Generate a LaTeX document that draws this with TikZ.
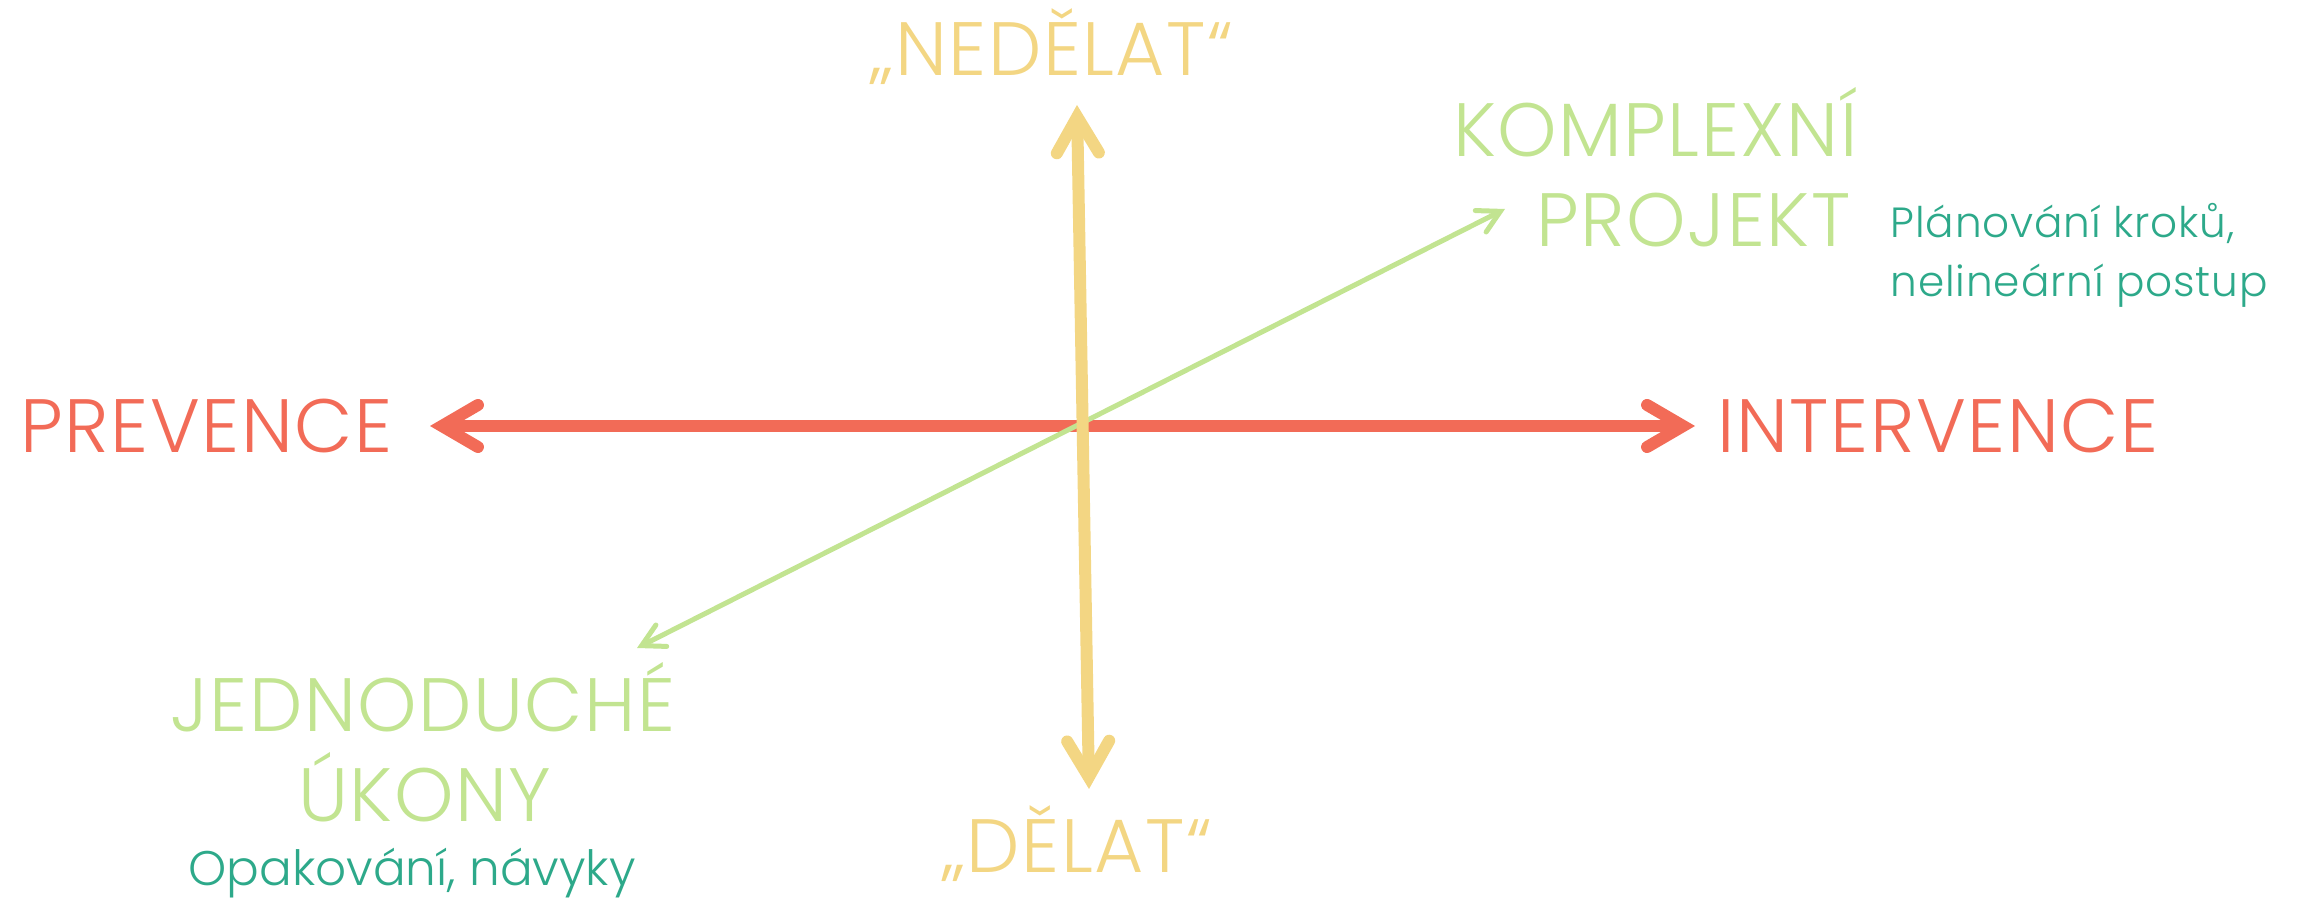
\documentclass[tikz,border=0pt]{standalone}
\usepackage{fontspec}
\setmainfont{Poppins}[UprightFont=* Light]
\usetikzlibrary{arrows.meta}

\definecolor{axisred}{HTML}{F26B57}
\definecolor{axisyellow}{HTML}{F3D683}
\definecolor{axisgreen}{HTML}{C2E491}
\definecolor{noteteal}{HTML}{2DA98A}

\tikzset{
  biglabel/.style={font=\fontsize{21.5}{25}\selectfont\addfontfeatures{LetterSpace=2}, inner sep=0pt},
  notelabel/.style={font=\fontsize{12}{14}\selectfont\addfontfeatures{LetterSpace=2}, text=noteteal, inner sep=0pt},
  bighead/.tip={Straight Barb[length=3.6mm, width=4.2mm, line cap=round, line join=miter]},
  smallhead/.tip={Straight Barb[length=2.2mm, width=2.4mm, line cap=round, line join=miter]},
  thickaxis/.style={line width=1.2mm, arrows={bighead-bighead}},
  thinaxis/.style={line width=0.5mm, arrows={smallhead-smallhead}}
}

\begin{document}
\begin{tikzpicture}[x=0.01cm, y=-0.01cm]
  \useasboundingbox (0,0) rectangle (2318,901);

  % axis end points
  \coordinate (redL) at (430,426);
  \coordinate (redR) at (1695,426);
  \coordinate (yelT) at (1077,105);
  \coordinate (yelB) at (1089,789);
  \coordinate (grnL) at (637,648);
  \coordinate (grnR) at (1505,209);

  % axes
  \draw[thickaxis, draw=axisred] (redL) -- (redR);
  \draw[thinaxis, draw=axisgreen] (grnL) -- (grnR);
  \draw[thickaxis, draw=axisyellow] (yelT) -- (yelB);

  % horizontal axis labels
  \node[biglabel, text=axisred, anchor=base west] (prevence) at (20,453) {PREVENCE};
  \node[biglabel, text=axisred, anchor=base west] (intervence) at (1717,453) {INTERVENCE};

  % vertical axis labels
  \node[biglabel, text=axisyellow, anchor=base] (nedelat) at (1052,76) {„NEDĚLAT“};
  \node[biglabel, text=axisyellow, anchor=base] (delat) at (1077,873) {„DĚLAT“};

  % diagonal axis labels
  \node[biglabel, text=axisgreen, anchor=base east] (komplexni) at (1858,157) {KOMPLEXNÍ};
  \node[biglabel, text=axisgreen, anchor=base east] (projekt) at (1851,247) {PROJEKT};
  \node[notelabel, anchor=base west] (planovani) at (1890,238) {Plánování kroků,};
  \node[notelabel, anchor=base west] (nelinearni) at (1890,297) {nelineární postup};

  \node[biglabel, text=axisgreen, anchor=base] (jednoduche) at (423,732) {JEDNODUCHÉ};
  \node[biglabel, text=axisgreen, anchor=base] (ukony) at (425,822) {ÚKONY};
  \node[notelabel, font=\fontsize{13.8}{16}\selectfont, anchor=base] (opakovani) at (412,886) {Opakování, návyky};
\end{tikzpicture}
\end{document}
